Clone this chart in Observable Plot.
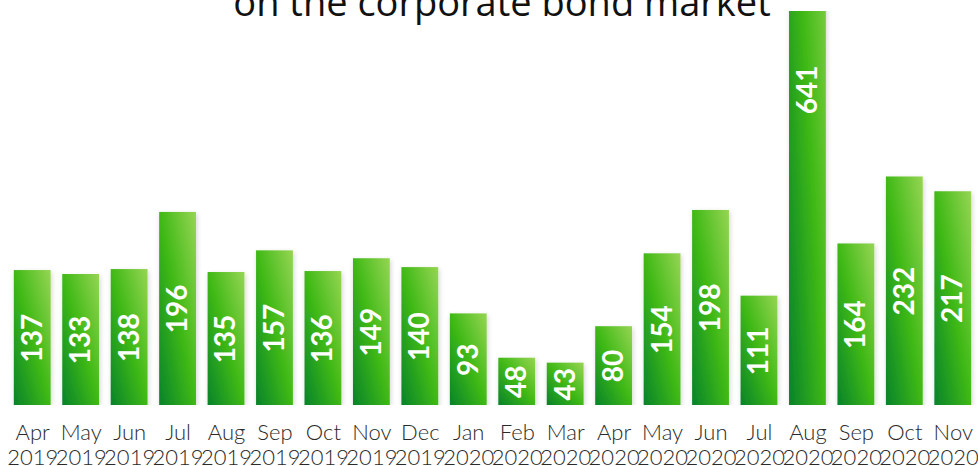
<!DOCTYPE html>
<html>
<head>
<meta charset="utf-8">
<script src="https://cdn.jsdelivr.net/npm/d3@7"></script>
<script src="https://cdn.jsdelivr.net/npm/@observablehq/plot@0.6"></script>
<style>
  html, body { margin: 0; padding: 0; background: #fff; overflow: hidden; }
  #wrap { position: relative; width: 978px; height: 466px; }
  #title { position: absolute; top: -17px; left: 0; width: 1004px; text-align: center;
    font-family: "Open Sans", sans-serif; font-size: 38px; line-height: 36px; color: #111; z-index: 2; white-space: nowrap; }
  #chart svg { display: block; }
</style>
</head>
<body>
<div id="wrap">
  <div id="title">on the corporate bond market</div>
  <div id="chart"></div>
</div>
<script>
const months = ["Apr","May","Jun","Jul","Aug","Sep","Oct","Nov","Dec","Jan","Feb","Mar","Apr","May","Jun","Jul","Aug","Sep","Oct","Nov"];
const years = ["2019","2019","2019","2019","2019","2019","2019","2019","2019","2020","2020","2020","2020","2020","2020","2020","2020","2020","2020","2020"];
const values = [137,133,138,196,135,157,136,149,140,93,48,43,80,154,198,111,641,164,232,217];

const data = months.map((m, i) => ({key: m + "\n" + years[i], value: values[i]}));

const chart = Plot.plot({
  width: 978,
  height: 466,
  marginTop: 11,
  marginBottom: 61,
  marginLeft: 8,
  marginRight: 1,
  style: {background: "transparent"},
  x: {domain: data.map(d => d.key), paddingInner: 0.24, paddingOuter: 0.12, round: false, label: null},
  y: {domain: [0, 400], axis: null},
  marks: [
    Plot.barY(data, {x: "key", y: "value", fill: "url(#barGrad)", clip: true}),
    Plot.text(data, {x: "key", y: d => d.value / 2, text: d => String(d.value), rotate: -90,
      fill: "white", fontSize: 28, fontWeight: "bold", fontFamily: "Lato, sans-serif"}),
    Plot.axisX({tickSize: 0, tickPadding: 17, fontSize: 22, lineHeight: 1.14, fill: "#2a2a2a",
      fontFamily: "Lato, sans-serif", fontWeight: 300, label: null})
  ]
});

const svg = d3.select(chart);
const defs = svg.insert("defs", ":first-child");
const g = defs.append("linearGradient").attr("id", "barGrad")
  .attr("x1", 1).attr("y1", 0).attr("x2", 0).attr("y2", 1);
g.append("stop").attr("offset", "0%").attr("stop-color", "#96d553");
g.append("stop").attr("offset", "50%").attr("stop-color", "#3fb916");
g.append("stop").attr("offset", "100%").attr("stop-color", "#08832a");
const f = defs.append("filter").attr("id", "shadow").attr("x", "-30%").attr("y", "-10%").attr("width", "160%").attr("height", "130%");
f.append("feDropShadow").attr("dx", 1).attr("dy", 2).attr("stdDeviation", 2.5)
  .attr("flood-color", "#000").attr("flood-opacity", 0.18);
svg.selectAll("g[aria-label='bar'] rect").attr("filter", "url(#shadow)");

document.getElementById("chart").appendChild(chart);
</script>
</body>
</html>
